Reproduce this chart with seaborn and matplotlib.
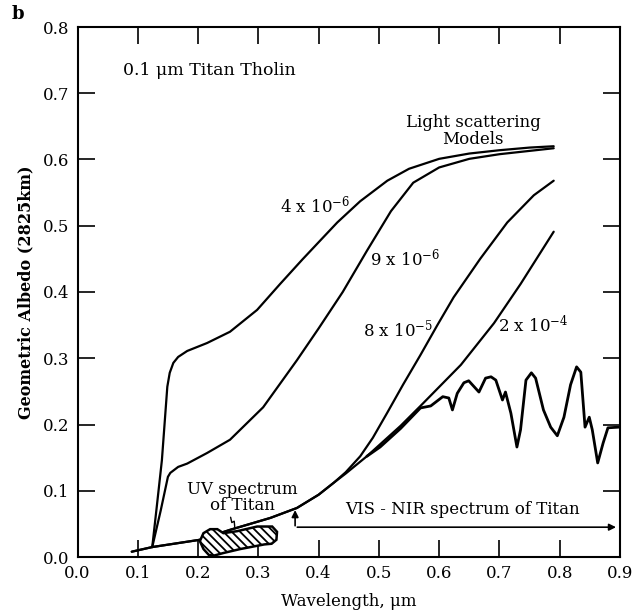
import numpy as np
import pandas as pd
import matplotlib
matplotlib.use("Agg")
import matplotlib.pyplot as plt
import seaborn as sns

# light scattering model curves (wavelength um, geometric albedo)
wl_4e6 = [0.124, 0.132, 0.140, 0.149, 0.153, 0.159, 0.167, 0.182, 0.215, 0.253, 0.298, 0.336,
          0.373, 0.403, 0.431, 0.469, 0.514, 0.550, 0.600, 0.650, 0.700, 0.750, 0.790]
al_4e6 = [0.015, 0.080, 0.146, 0.257, 0.278, 0.293, 0.302, 0.311, 0.323, 0.340, 0.373, 0.412,
          0.449, 0.478, 0.505, 0.537, 0.568, 0.586, 0.601, 0.609, 0.614, 0.618, 0.620]

wl_9e6 = [0.124, 0.138, 0.150, 0.154, 0.167, 0.182, 0.215, 0.253, 0.308, 0.364, 0.400, 0.440,
          0.480, 0.520, 0.557, 0.600, 0.650, 0.700, 0.750, 0.790]
al_9e6 = [0.015, 0.070, 0.121, 0.127, 0.136, 0.141, 0.157, 0.177, 0.226, 0.297, 0.345, 0.400,
          0.462, 0.522, 0.565, 0.588, 0.601, 0.608, 0.613, 0.617]

wl_8e5 = [0.090, 0.124, 0.203, 0.253, 0.320, 0.364, 0.400, 0.425, 0.445, 0.469, 0.490, 0.514,
          0.540, 0.569, 0.597, 0.624, 0.668, 0.713, 0.757, 0.790]
al_8e5 = [0.008, 0.015, 0.026, 0.041, 0.059, 0.074, 0.094, 0.112, 0.128, 0.152, 0.180, 0.218,
          0.260, 0.305, 0.350, 0.392, 0.450, 0.505, 0.546, 0.568]

wl_2e4 = [0.090, 0.124, 0.203, 0.253, 0.320, 0.364, 0.400, 0.425, 0.445, 0.480, 0.536, 0.569,
          0.636, 0.691, 0.735, 0.790]
al_2e4 = [0.008, 0.015, 0.026, 0.041, 0.059, 0.074, 0.094, 0.112, 0.126, 0.152, 0.198, 0.228,
          0.290, 0.353, 0.412, 0.491]

# VIS - NIR spectrum of Titan
wl_vis = [0.480, 0.502, 0.536, 0.569, 0.586, 0.606, 0.616, 0.622, 0.630, 0.641, 0.649, 0.666,
          0.677, 0.686, 0.694, 0.705, 0.710, 0.719, 0.729, 0.735, 0.744, 0.753, 0.760, 0.773,
          0.785, 0.796, 0.807, 0.818, 0.828, 0.835, 0.842, 0.849, 0.854, 0.863, 0.872, 0.880,
          0.898]
al_vis = [0.152, 0.166, 0.194, 0.225, 0.228, 0.242, 0.240, 0.222, 0.247, 0.263, 0.266, 0.249,
          0.270, 0.272, 0.267, 0.237, 0.249, 0.217, 0.166, 0.192, 0.267, 0.278, 0.270, 0.222,
          0.196, 0.183, 0.211, 0.260, 0.287, 0.279, 0.196, 0.211, 0.192, 0.142, 0.172, 0.195,
          0.196]

# UV spectrum of Titan (outline of hatched region)
wl_uv = [0.203, 0.209, 0.220, 0.232, 0.242, 0.265, 0.298, 0.323, 0.331, 0.330, 0.322, 0.310,
         0.270, 0.242, 0.226, 0.218, 0.209]
al_uv = [0.024, 0.036, 0.042, 0.042, 0.036, 0.039, 0.046, 0.046, 0.038, 0.026, 0.020, 0.019,
         0.012, 0.006, 0.002, 0.003, 0.012]

curves = {'4 x 10$^{-6}$': (wl_4e6, al_4e6), '9 x 10$^{-6}$': (wl_9e6, al_9e6),
          '8 x 10$^{-5}$': (wl_8e5, al_8e5), '2 x 10$^{-4}$': (wl_2e4, al_2e4)}
label_pos = {'4 x 10$^{-6}$': (0.336, 0.531), '9 x 10$^{-6}$': (0.486, 0.451),
             '8 x 10$^{-5}$': (0.474, 0.343), '2 x 10$^{-4}$': (0.697, 0.350)}

sns.set_theme(style="ticks")
plt.rcParams['font.family'] = ['DejaVu Serif']
plt.rcParams['mathtext.fontset'] = 'dejavuserif'
plt.rcParams['hatch.linewidth'] = 1.3
plt.rcParams['text.color'] = 'black'
plt.rcParams['axes.labelcolor'] = 'black'

fig = plt.figure(figsize=(6.34, 6.14), dpi=100)
ax = fig.add_axes([77.5 / 634, 1 - 557 / 614, 542.5 / 634, 530 / 614])

for name, (wl, al) in curves.items():
    df = pd.DataFrame({'wl': wl, 'al': al})
    sns.lineplot(data=df, x='wl', y='al', ax=ax, color='black', lw=1.6,
                 sort=False, estimator=None)
    ax.text(label_pos[name][0], label_pos[name][1], name, fontsize=12, ha='left', va='center')

vis = pd.DataFrame({'wl': wl_vis, 'al': al_vis})
sns.lineplot(data=vis, x='wl', y='al', ax=ax, color='black', lw=2.0, sort=False, estimator=None)

ax.fill(wl_uv, al_uv, facecolor='white', edgecolor='black', hatch='\\\\\\\\', lw=1.8, zorder=3)

# pointers and labels
ax.plot([0.254, 0.256, 0.260, 0.261], [0.060, 0.052, 0.054, 0.044], color='black', lw=1.0)
ax.text(0.273, 0.090, 'UV spectrum\nof Titan', fontsize=12, ha='center', va='center',
        linespacing=0.95)
ax.annotate('', xy=(0.361, 0.075), xytext=(0.361, 0.043),
            arrowprops=dict(arrowstyle='-|>', color='black', lw=1.2, mutation_scale=10))
ax.annotate('', xy=(0.898, 0.045), xytext=(0.360, 0.045),
            arrowprops=dict(arrowstyle='-|>', color='black', lw=1.2, mutation_scale=10))
ax.text(0.639, 0.072, 'VIS - NIR spectrum of Titan', fontsize=12, ha='center', va='center')
ax.text(0.656, 0.643, 'Light scattering\nModels', fontsize=12, ha='center', va='center',
        linespacing=0.95)
ax.text(0.076, 0.735, '0.1 \u03bcm Titan Tholin', fontsize=12.5, ha='left', va='center')

ax.set_xlim(0, 0.9)
ax.set_ylim(0, 0.8)
ax.set_xticks(np.arange(0, 0.91, 0.1))
ax.set_yticks(np.arange(0, 0.81, 0.1))
ax.set_xticklabels(['%.1f' % v for v in np.arange(0, 0.91, 0.1)])
ax.set_yticklabels(['%.1f' % v for v in np.arange(0, 0.81, 0.1)])
ax.tick_params(direction='in', length=12, width=1.2, top=True, right=True,
               labelsize=12, colors='black', pad=6)
for s in ax.spines.values():
    s.set_linewidth(1.5)
    s.set_color('black')
ax.set_xlabel('Wavelength, \u03bcm', fontsize=12, labelpad=8)
ax.set_ylabel('Geometric Albedo (2825km)', fontsize=11.5, fontweight='bold', labelpad=6)

fig.text(12 / 634, 1 - 14 / 614, 'b', fontsize=13, fontweight='bold', ha='left', va='center')

fig.savefig('out.png', dpi=100)
